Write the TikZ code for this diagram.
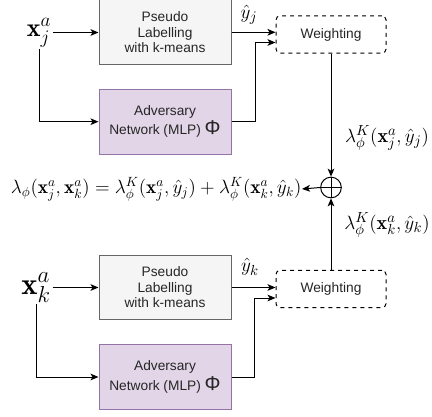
\documentclass[tikz,border=0pt]{standalone}
\usepackage{fontspec}
\setsansfont{Liberation Sans}
\usetikzlibrary{arrows.meta,calc}
\definecolor{pgray}{HTML}{F5F5F5}
\definecolor{pgrayd}{HTML}{666666}
\definecolor{advfill}{HTML}{E1D5E7}
\definecolor{advdraw}{HTML}{9673A6}
\begin{document}
\begin{tikzpicture}[x=0.75pt,y=-0.75pt,
  every path/.style={line width=0.75pt},
  arr/.style={-{Stealth[length=6pt,width=5pt,inset=1.5pt]}},
  boxtxt/.style={font=\sffamily\fontsize{10.3}{11.6}\selectfont,align=center,text=black!85},
  pseudobox/.style={boxtxt,draw=pgrayd,fill=pgray,minimum width=99pt,minimum height=48.5pt,inner sep=0pt},
  advbox/.style={boxtxt,draw=advdraw,fill=advfill,minimum width=99pt,minimum height=49pt,inner sep=0pt},
  weightbox/.style={boxtxt,draw=black,dashed,rounded corners=3pt,minimum width=82.5pt,minimum height=28pt,inner sep=0pt},
  mathlbl/.style={font=\fontsize{15}{17}\selectfont,inner sep=0pt}
]
\useasboundingbox (0,0) rectangle (432,417);
% top branch
\node[font=\fontsize{19.5}{22}\selectfont,inner sep=1pt] (xj) at (39,32.5) {$\mathbf{x}_j^a$};
\node[pseudobox] (pj) at (165,32.3) {Pseudo\\Labelling\\with k-means};
\node[advbox] (aj) at (165,121.7) {Adversary\\[1pt]Network (MLP) {\fontsize{15}{15}\selectfont Φ}};
\node[weightbox] (wj) at (331,34.5) {Weighting};
\node[mathlbl] (yj) at (249,15) {$\hat{y}_j$};
% bottom branch
\node[font=\fontsize{23}{25}\selectfont,inner sep=1pt] (xk) at (36,287.5) {$\mathbf{x}_k^a$};
\node[pseudobox] (pk) at (165,287.5) {Pseudo\\Labelling\\with k-means};
\node[advbox] (ak) at (165,377) {Adversary\\[1pt]Network (MLP) {\fontsize{15}{15}\selectfont Φ}};
\node[weightbox] (wk) at (331,289) {Weighting};
\node[mathlbl] (yk) at (250,267) {$\hat{y}_k$};
% sum
\node[draw,circle,minimum size=15.5pt,inner sep=0pt] (sum) at (331,187.5) {};
\draw (sum.north) -- (sum.south) (sum.west) -- (sum.east);
\node[mathlbl,font=\fontsize{14.5}{17}\selectfont,anchor=east] (eq) at (302,189) {$\lambda_\phi(\mathbf{x}_j^a,\mathbf{x}_k^a)=\lambda_\phi^K(\mathbf{x}_j^a,\hat{y}_j)+\lambda_\phi^K(\mathbf{x}_k^a,\hat{y}_k)$};
\node[mathlbl] (lj) at (387,138) {$\lambda_\phi^K(\mathbf{x}_j^a,\hat{y}_j)$};
\node[mathlbl] (lk) at (387,225) {$\lambda_\phi^K(\mathbf{x}_k^a,\hat{y}_k)$};
% connectors top
\draw[arr] (xj.east) -- (pj.west |- xj.east);
\draw[arr] (xj.south) |- (aj.west);
\draw[arr] (pj.east) -- (pj.east -| wj.west);
\draw[arr] (aj.east) -- ++(24,0) |- ($(wj.west)+(0,8)$);
\draw[arr] (wj.south) -- (sum.north);
% connectors bottom
\draw[arr] (xk.east) -- (pk.west |- xk.east);
\draw[arr] (xk.south) |- (ak.west);
\draw[arr] (pk.east) -- (pk.east -| wk.west);
\draw[arr] (ak.east) -- ++(23,0) |- ($(wk.west)+(0,9)$);
\draw[arr] (wk.north) -- (sum.south);
\draw[arr] (sum.west) -- (eq.east);
\end{tikzpicture}
\end{document}
